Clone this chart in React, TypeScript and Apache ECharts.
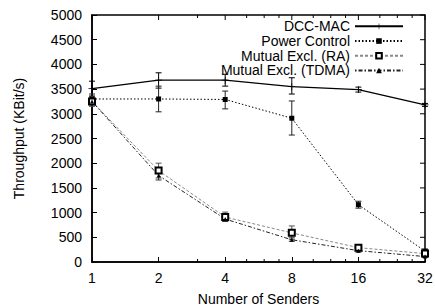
import React, { useEffect, useRef } from "react";
import * as echarts from "echarts";

const senders = [1, 2, 4, 8, 16, 32];
const minorTickValues = [3, 5, 6, 7, 10, 12, 14, 20, 24, 28];
const yTicks = [0, 500, 1000, 1500, 2000, 2500, 3000, 3500, 4000, 4500, 5000];

const dccMac = [3510, 3680, 3680, 3550, 3490, 3180];
const dccLow = [3360, 3520, 3560, 3400, 3440, 3150];
const dccHigh = [3660, 3830, 3800, 3730, 3540, 3210];

const powerControl = [3300, 3300, 3290, 2910, 1160, 220];
const pcLow = [3200, 3040, 3100, 2570, 1090, 180];
const pcHigh = [3400, 3560, 3460, 3260, 1230, 260];

const mutualRA = [3250, 1850, 910, 590, 290, 170];
const raLow = [3150, 1700, 830, 460, 250, 140];
const raHigh = [3350, 2000, 1010, 730, 340, 200];

const mutualTDMA = [3250, 1750, 870, 450, 230, 110];
const tdLow = [3180, 1660, 820, 420, 200, 90];
const tdHigh = [3320, 1840, 940, 490, 260, 130];

const seriesNames = ["DCC-MAC", "Power Control", "Mutual Excl. (RA)", "Mutual Excl. (TDMA)"];

const FONT = "'Liberation Sans', Arial, sans-serif";
const FS = 14;
const PLUS = "path://M4.5,0 L5.5,0 L5.5,4.5 L10,4.5 L10,5.5 L5.5,5.5 L5.5,10 L4.5,10 L4.5,5.5 L0,5.5 L0,4.5 L4.5,4.5 Z";

const lx = (n: number) => Math.log2(n);

function errorSeries(name: string, low: number[], high: number[], color: string) {
  return {
    type: "custom",
    name: name + " err",
    silent: true,
    z: 3,
    data: senders.map((s, i) => [lx(s), low[i], high[i]]),
    renderItem: (params: any, api: any) => {
      const x = api.value(0);
      const p1 = api.coord([x, api.value(1)]);
      const p2 = api.coord([x, api.value(2)]);
      const w = 3;
      const st = { stroke: color, lineWidth: 1 };
      return {
        type: "group",
        children: [
          { type: "line", shape: { x1: p1[0], y1: p1[1], x2: p2[0], y2: p2[1] }, style: st },
          { type: "line", shape: { x1: p1[0] - w, y1: p1[1], x2: p1[0] + w, y2: p1[1] }, style: st },
          { type: "line", shape: { x1: p2[0] - w, y1: p2[1], x2: p2[0] + w, y2: p2[1] }, style: st },
        ],
      };
    },
  };
}

export default function App() {
  const ref = useRef<HTMLDivElement>(null);
  useEffect(() => {
    const chart = echarts.init(ref.current!, null, { renderer: "svg" });
    const axisLine = { show: true, onZero: false, lineStyle: { color: "#000", width: 1.5 } };
    const tick = { show: true, inside: true, length: 5, lineStyle: { color: "#000" } };
    const option: any = {
      animation: false,
      backgroundColor: "#fff",
      textStyle: { fontFamily: FONT },
      grid: {
        left: 92,
        right: 10,
        top: 15,
        bottom: 45,
        outerBoundsMode: "none",
        containLabel: false,
        show: true,
        borderColor: "#000",
        borderWidth: 1.5,
        backgroundColor: "transparent",
      },
      legend: {
        orient: "vertical",
        right: 31,
        top: 19,
        align: "right",
        itemWidth: 48,
        itemHeight: 7,
        itemGap: 0,
        data: seriesNames,
        textStyle: { fontFamily: FONT, fontSize: FS, lineHeight: 14.7, color: "#000" },
        padding: 0,
      },
      xAxis: {
        type: "value",
        min: 0,
        max: 5,
        interval: 1,
        position: "bottom",
        name: "Number of Senders",
        nameLocation: "middle",
        nameGap: 30,
        nameTextStyle: { fontFamily: FONT, fontSize: FS, color: "#000" },
        axisLine,
        axisTick: tick,
        axisLabel: {
          fontFamily: FONT,
          fontSize: FS,
          color: "#000",
          margin: 9,
          formatter: (v: number) => String(Math.round(Math.pow(2, v))),
        },
        splitLine: { show: false },
      },
      yAxis: {
        type: "value",
        min: 0,
        max: 5000,
        interval: 500,
        name: "Throughput (KBit/s)",
        nameLocation: "middle",
        nameGap: 66,
        nameTextStyle: { fontFamily: FONT, fontSize: FS, color: "#000" },
        axisLine,
        axisTick: tick,
        axisLabel: {
          fontFamily: FONT,
          fontSize: FS,
          color: "#000",
          margin: 10,
          formatter: (v: number) => (yTicks.includes(v) ? String(v) : ""),
        },
        splitLine: { show: false },
      },
      series: [
        {
          type: "custom",
          name: "minor ticks",
          silent: true,
          data: minorTickValues.map((v) => [lx(v), 3]).concat(senders.map((v) => [lx(v), 5])),
          renderItem: (params: any, api: any) => {
            const x = api.value(0);
            const len = api.value(1);
            const pb = api.coord([x, 0]);
            const pt = api.coord([x, 5000]);
            const st = { stroke: "#000", lineWidth: 1 };
            const children: any[] = [
              { type: "line", shape: { x1: pt[0], y1: pt[1], x2: pt[0], y2: pt[1] + len }, style: st },
            ];
            if (len < 5) children.push({ type: "line", shape: { x1: pb[0], y1: pb[1], x2: pb[0], y2: pb[1] - len }, style: st });
            return { type: "group", children };
          },
        },
        {
          type: "custom",
          name: "right ticks",
          silent: true,
          data: yTicks.map((v) => [5, v]),
          renderItem: (params: any, api: any) => {
            const p = api.coord([api.value(0), api.value(1)]);
            return { type: "line", shape: { x1: p[0], y1: p[1], x2: p[0] - 5, y2: p[1] }, style: { stroke: "#000", lineWidth: 1 } };
          },
        },
        errorSeries("DCC-MAC", dccLow, dccHigh, "#000"),
        errorSeries("Power Control", pcLow, pcHigh, "#222"),
        errorSeries("Mutual Excl. (RA)", raLow, raHigh, "#555"),
        errorSeries("Mutual Excl. (TDMA)", tdLow, tdHigh, "#333"),
        {
          type: "line",
          name: "DCC-MAC",
          data: senders.map((s, i) => [lx(s), dccMac[i]]),
          symbol: PLUS,
          symbolSize: 7,
          itemStyle: { color: "#000", borderWidth: 0 },
          lineStyle: { color: "#000", width: 1.3, type: "solid" },
          z: 5,
        },
        {
          type: "line",
          name: "Power Control",
          data: senders.map((s, i) => [lx(s), powerControl[i]]),
          symbol: "rect",
          symbolSize: 5,
          itemStyle: { color: "#000" },
          lineStyle: { color: "#000", width: 1, type: [1.5, 2] },
          z: 5,
        },
        {
          type: "line",
          name: "Mutual Excl. (RA)",
          data: senders.map((s, i) => [lx(s), mutualRA[i]]),
          symbol: "emptyRect",
          symbolSize: 6,
          itemStyle: { color: "#000", borderWidth: 1.2 },
          lineStyle: { color: "#888", width: 1, type: [3, 2] },
          z: 5,
        },
        {
          type: "line",
          name: "Mutual Excl. (TDMA)",
          data: senders.map((s, i) => [lx(s), mutualTDMA[i]]),
          symbol: "triangle",
          symbolSize: 4,
          itemStyle: { color: "#000" },
          lineStyle: { color: "#222", width: 1, type: [1.5, 2, 4, 2] },
          z: 5,
        },
      ],
    };
    chart.setOption(option);
    return () => chart.dispose();
  }, []);
  return <div ref={ref} style={{ width: 435, height: 307, position: "absolute", left: 0, top: 0 }} />;
}
